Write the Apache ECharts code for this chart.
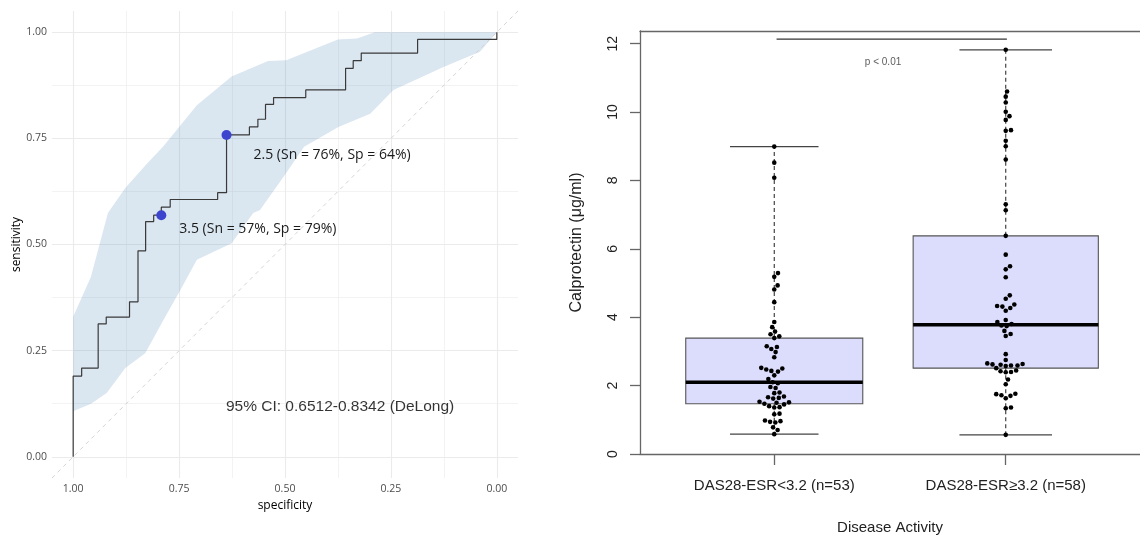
<!DOCTYPE html>
<html lang="en">
<head>
<meta charset="UTF-8">
<title>ROC and calprotectin</title>
<style>
  html, body { margin: 0; padding: 0; background: #fff; }
  #main { width: 1140px; height: 540px; }
</style>
</head>
<body>
<div id="main"></div>
<script src="https://cdn.jsdelivr.net/npm/echarts@6/dist/echarts.min.js"></script>
<script>
// ---------- left panel: ROC ----------
// step corners: at each specificity the curve rises to the given sensitivity
var rocSpec = [1.000, 0.980, 0.941, 0.922, 0.867, 0.847, 0.829, 0.810, 0.792, 0.771, 0.659,
               0.638, 0.584, 0.564, 0.546, 0.527, 0.451, 0.357, 0.339, 0.320, 0.187, 0.000];
var rocSens = [0.190, 0.209, 0.313, 0.329, 0.365, 0.485, 0.554, 0.569, 0.588, 0.606, 0.622,
               0.758, 0.777, 0.795, 0.830, 0.846, 0.864, 0.915, 0.933, 0.951, 0.983, 1.000];

// 95% CI band of sensitivity
var ciUpSpec = [1.000, 0.958, 0.918, 0.877, 0.826, 0.788, 0.708, 0.626, 0.540, 0.497, 0.375, 0.330, 0.288, 0.000];
var ciUp     = [0.330, 0.424, 0.574, 0.633, 0.690, 0.730, 0.828, 0.896, 0.932, 0.934, 0.983, 0.985, 1.000, 1.000];
var ciLoSpec = [1.000, 0.958, 0.921, 0.877, 0.830, 0.787, 0.747, 0.708, 0.626, 0.575, 0.559, 0.498, 0.455,
                0.374, 0.299, 0.244, 0.126, 0.040, 0.000];
var ciLo     = [0.107, 0.125, 0.150, 0.209, 0.244, 0.322, 0.393, 0.464, 0.503, 0.574, 0.581, 0.667, 0.730,
                0.777, 0.808, 0.864, 0.918, 0.954, 1.000];

// cut-off points
var thrName = ['2.5', '3.5'];
var thrSpec = [0.638, 0.792];
var thrSens = [0.758, 0.569];

var aucCiText = '95% CI: 0.6512-0.8342 (DeLong)';
var aucCiPos = [0.370, 0.118];   // spec, sens of the text centre

var rocTicks = [0, 0.25, 0.5, 0.75, 1];
var rocMinor = [0.125, 0.375, 0.625, 0.875];

// ---------- right panel: calprotectin by disease activity ----------
var groupNames = ['DAS28-ESR<3.2 (n=53)', 'DAS28-ESR\u22653.2 (n=58)'];
var lowActivity = [8.99, 8.52, 8.08, 5.29, 5.18, 4.93, 4.81, 4.44, 3.86, 3.71,
                   3.58, 3.50, 3.44, 3.39, 3.15, 3.13, 3.07, 2.98, 2.83, 2.52,
                   2.50, 2.47, 2.43, 2.41, 2.30, 2.19, 2.10, 2.07, 1.96, 1.93,
                   1.80, 1.78, 1.68, 1.66, 1.64, 1.62, 1.53, 1.51, 1.50, 1.47,
                   1.45, 1.40, 1.37, 1.36, 1.18, 1.16, 0.98, 0.96, 0.94, 0.92,
                   0.78, 0.70, 0.58];
var highActivity = [11.82, 10.60, 10.45, 10.28, 10.01, 9.88, 9.77, 9.47, 9.45, 9.16,
                    9.00, 8.61, 7.30, 7.13, 6.38, 5.83, 5.49, 5.40, 5.17, 4.64,
                    4.54, 4.37, 4.33, 4.31, 4.27, 4.19, 3.92, 3.86, 3.80, 3.76,
                    3.74, 3.60, 3.51, 3.45, 2.92, 2.75, 2.65, 2.63, 2.62, 2.61,
                    2.59, 2.59, 2.57, 2.51, 2.44, 2.42, 2.40, 2.39, 2.18, 2.04,
                    1.76, 1.75, 1.72, 1.70, 1.63, 1.36, 1.34, 0.56];
var calTicks = [0, 2, 4, 6, 8, 10, 12];
var sigX = [1.01, 2.005];
var sigY = 12.13;
var pText = 'p < 0.01';
var pTextPos = [1.47, 11.46];

// ---------- helpers ----------
function fivenum(arr) {
  var x = arr.slice().sort(function (a, b) { return a - b; });
  var n = x.length;
  var n4 = Math.floor((n + 3) / 2) / 2;
  var d = [1, n4, (n + 1) / 2, n + 1 - n4, n];
  return d.map(function (k) { return 0.5 * (x[Math.floor(k) - 1] + x[Math.ceil(k) - 1]); });
}

var rocPath = [[rocSpec[0], 0]];
rocSpec.forEach(function (s, i) {
  if (i > 0) rocPath.push([s, rocSens[i - 1]]);
  rocPath.push([s, rocSens[i]]);
});

var groups = [lowActivity, highActivity];
var maxN = Math.max(lowActivity.length, highActivity.length);
var boxData = groups.map(function (g, i) {
  var f = fivenum(g);
  return [i + 1, f[0], f[1], f[2], f[3], f[4], 0.4 * Math.sqrt(g.length / maxN)];
});

var leftFont = '"Open Sans", "Noto Sans", sans-serif';
var rightFont = '"Liberation Sans", Arial, sans-serif';
var frame = { show: true, lineStyle: { color: '#666', width: 1.3 } };

var chart = echarts.init(document.getElementById('main'));

function rocAxis(minor, extra) {
  var vals = minor ? rocMinor : rocTicks;
  var a = {
    type: 'value', gridIndex: 0, min: -0.05, max: 1.05,
    axisLine: { show: false },
    axisTick: { show: false, customValues: vals },
    axisLabel: {
      show: !minor, customValues: vals, color: '#4d4d4d', fontSize: 10.5, fontFamily: leftFont,
      formatter: function (v) { return v.toFixed(2); }
    },
    splitLine: { show: true, lineStyle: { color: '#ebebeb', width: minor ? 0.6 : 1.1 } }
  };
  for (var k in extra) a[k] = extra[k];
  return a;
}

var option = {
  animation: false,
  backgroundColor: '#fff',
  grid: [
    { left: 52, top: 11, width: 466, height: 467 },
    { left: 640, top: 31, width: 502, height: 423 }
  ],
  xAxis: [
    rocAxis(false, {
      inverse: true, name: 'specificity', nameLocation: 'middle', nameGap: 20,
      nameTextStyle: { color: '#000', fontSize: 12, fontFamily: leftFont },
      axisLabel: { customValues: rocTicks, color: '#4d4d4d', fontSize: 10.5, fontFamily: leftFont, margin: 6,
        formatter: function (v) { return v.toFixed(2); } }
    }),
    rocAxis(true, { inverse: true }),
    {
      type: 'value', gridIndex: 1, min: 0.42, max: 2.58,
      axisLine: frame,
      axisTick: { show: true, customValues: [1, 2], length: 11, lineStyle: { color: '#666', width: 1.3 } },
      axisLabel: {
        customValues: [1, 2], margin: 24, color: '#222', fontSize: 15, fontFamily: rightFont,
        formatter: function (v) { return groupNames[Math.round(v) - 1]; }
      },
      splitLine: { show: false },
      name: 'Disease Activity', nameLocation: 'middle', nameGap: 66,
      nameTextStyle: { color: '#222', fontSize: 15, fontFamily: rightFont }
    },
    {
      // top edge of the plot frame
      type: 'value', gridIndex: 1, position: 'top', min: 0.42, max: 2.58,
      axisLine: frame, axisTick: { show: false }, axisLabel: { show: false }, splitLine: { show: false }
    }
  ],
  yAxis: [
    rocAxis(false, {
      name: 'sensitivity', nameLocation: 'middle', nameGap: 29,
      nameTextStyle: { color: '#000', fontSize: 12, fontFamily: leftFont },
      axisLabel: { customValues: rocTicks, color: '#4d4d4d', fontSize: 10.5, fontFamily: leftFont, margin: 5,
        formatter: function (v) { return v.toFixed(2); } }
    }),
    rocAxis(true, {}),
    {
      type: 'value', gridIndex: 1, min: 0, max: 12.37,
      axisLine: frame,
      axisTick: { show: true, customValues: calTicks, length: 10, lineStyle: { color: '#666', width: 1.3 } },
      axisLabel: { customValues: calTicks, rotate: 90, margin: 20, color: '#222', fontSize: 14, fontFamily: rightFont },
      splitLine: { show: false },
      name: 'Calprotectin (\u03bcg/ml)', nameLocation: 'middle', nameGap: 55, nameRotate: 90,
      nameTextStyle: { color: '#222', fontSize: 16, fontFamily: rightFont }
    }
  ],
  series: [
    {
      type: 'custom', name: 'ci', xAxisIndex: 0, yAxisIndex: 0, silent: true,
      data: [[0.5, 0.5]],
      renderItem: function (params, api) {
        var pts = [];
        ciUpSpec.forEach(function (s, i) { pts.push(api.coord([s, ciUp[i]])); });
        for (var i = ciLoSpec.length - 1; i >= 0; i--) pts.push(api.coord([ciLoSpec[i], ciLo[i]]));
        return { type: 'polygon', shape: { points: pts }, style: { fill: 'rgba(70,130,180,0.2)' } };
      },
      z: 1
    },
    {
      type: 'line', xAxisIndex: 0, yAxisIndex: 0, symbol: 'none', silent: true,
      data: [1.05, -0.05].map(function (s) { return [s, 1 - s]; }),
      lineStyle: { color: '#cfcfcf', width: 0.9, type: [4, 4] }, z: 2
    },
    {
      type: 'line', xAxisIndex: 0, yAxisIndex: 0, symbol: 'none', silent: true,
      data: rocPath, lineStyle: { color: '#3a3a3a', width: 1.2 }, z: 3
    },
    {
      type: 'scatter', xAxisIndex: 0, yAxisIndex: 0, symbolSize: 10,
      itemStyle: { color: '#3d45cf', opacity: 1 },
      data: thrName.map(function (t, i) {
        return {
          value: [thrSpec[i], thrSens[i]],
          label: {
            show: true, position: 'right', distance: 0,
            offset: i === 0 ? [22, 20] : [13, 14],
            formatter: t + ' (Sn = ' + Math.round(thrSens[i] * 100) + '%, Sp = ' + Math.round(thrSpec[i] * 100) + '%)',
            color: '#1a1a1a', fontSize: 14, fontFamily: leftFont
          }
        };
      }),
      z: 4
    },
    {
      type: 'scatter', xAxisIndex: 0, yAxisIndex: 0, symbolSize: 1, silent: true,
      itemStyle: { color: 'rgba(0,0,0,0)' },
      data: [aucCiPos],
      label: { show: true, position: 'inside', formatter: aucCiText, color: '#000', fontSize: 15.5, fontFamily: rightFont },
      z: 4
    },
    {
      type: 'custom', name: 'boxes', xAxisIndex: 2, yAxisIndex: 2, silent: true,
      data: boxData,
      renderItem: function (params, api) {
        var x = api.value(0), lo = api.value(1), q1 = api.value(2), med = api.value(3),
            q3 = api.value(4), hi = api.value(5), hw = api.value(6);
        var pLo = api.coord([x, lo]), pQ1 = api.coord([x, q1]), pMed = api.coord([x, med]),
            pQ3 = api.coord([x, q3]), pHi = api.coord([x, hi]);
        var xl = api.coord([x - hw, med])[0], xr = api.coord([x + hw, med])[0];
        var sl = api.coord([x - hw / 2, med])[0], sr = api.coord([x + hw / 2, med])[0];
        var dash = { stroke: '#333', lineWidth: 1.1, lineDash: [4, 3] };
        var solid = { stroke: '#444', lineWidth: 1.2 };
        return {
          type: 'group',
          children: [
            { type: 'line', shape: { x1: pQ3[0], y1: pQ3[1], x2: pHi[0], y2: pHi[1] }, style: dash },
            { type: 'line', shape: { x1: pQ1[0], y1: pQ1[1], x2: pLo[0], y2: pLo[1] }, style: dash },
            { type: 'line', shape: { x1: sl, y1: pHi[1], x2: sr, y2: pHi[1] }, style: solid },
            { type: 'line', shape: { x1: sl, y1: pLo[1], x2: sr, y2: pLo[1] }, style: solid },
            { type: 'rect', shape: { x: xl, y: pQ3[1], width: xr - xl, height: pQ1[1] - pQ3[1] },
              style: { fill: '#dcdcfd', stroke: '#555', lineWidth: 1.1 } },
            { type: 'line', shape: { x1: xl, y1: pMed[1], x2: xr, y2: pMed[1] }, style: { stroke: '#000', lineWidth: 3.5 } }
          ]
        };
      },
      z: 2
    },
    {
      id: 'dots', type: 'scatter', xAxisIndex: 2, yAxisIndex: 2, symbolSize: 4.6, silent: true,
      itemStyle: { color: '#000', opacity: 1 }, data: [], z: 3
    },
    {
      type: 'line', xAxisIndex: 2, yAxisIndex: 2, symbol: 'none', silent: true,
      data: sigX.map(function (x) { return [x, sigY]; }),
      lineStyle: { color: '#333', width: 1.3 }, z: 3
    },
    {
      type: 'scatter', xAxisIndex: 2, yAxisIndex: 2, symbolSize: 1, silent: true,
      itemStyle: { color: 'rgba(0,0,0,0)' },
      data: [pTextPos],
      label: { show: true, position: 'inside', formatter: pText, color: '#333', fontSize: 10, fontFamily: rightFont },
      z: 3
    }
  ]
};

chart.setOption(option);

// beeswarm layout of the dots (pixel collision, like R's beeswarm "swarm")
var gap = 5.3;
var dots = [];
groups.forEach(function (g, gi) {
  var cx = gi + 1;
  var unit = chart.convertToPixel({ gridIndex: 1 }, [cx + 1, 0])[0] - chart.convertToPixel({ gridIndex: 1 }, [cx, 0])[0];
  var pts = g.map(function (v) { return { v: v, y: chart.convertToPixel({ gridIndex: 1 }, [cx, v])[1] }; });
  pts.sort(function (a, b) { return b.y - a.y; });
  var placed = [];
  pts.forEach(function (p) {
    var cands = [0];
    placed.forEach(function (q) {
      var dy = Math.abs(q.y - p.y);
      if (dy < gap) {
        var dx = Math.sqrt(gap * gap - dy * dy);
        cands.push(q.x + dx, q.x - dx);
      }
    });
    cands.sort(function (a, b) { return Math.abs(a) - Math.abs(b); });
    for (var k = 0; k < cands.length; k++) {
      var c = cands[k];
      var ok = placed.every(function (q) {
        return (q.x - c) * (q.x - c) + (q.y - p.y) * (q.y - p.y) >= gap * gap - 0.01;
      });
      if (ok) { p.x = c; break; }
    }
    placed.push(p);
    dots.push([cx + p.x / unit, p.v]);
  });
});
chart.setOption({ series: [{ id: 'dots', data: dots }] });
</script>
</body>
</html>
